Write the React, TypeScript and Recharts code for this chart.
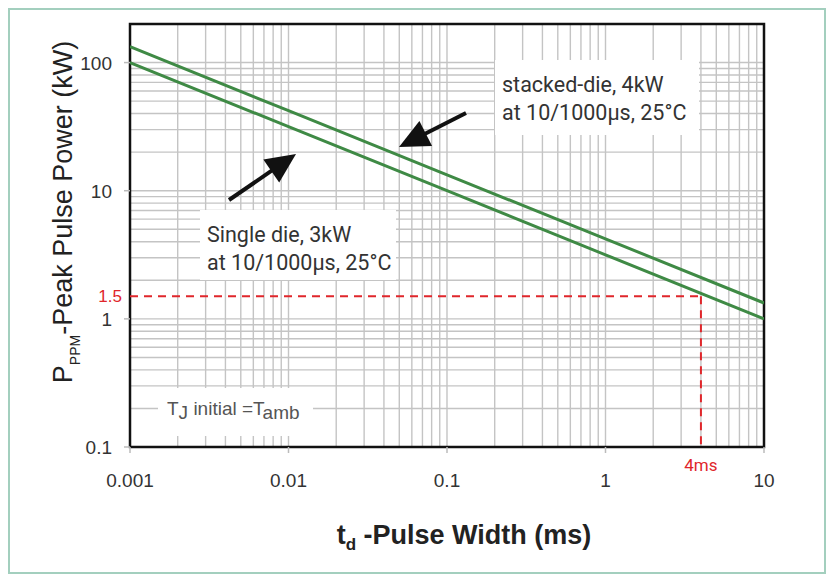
import {
  LineChart,
  Line,
  XAxis,
  YAxis,
  CartesianGrid,
  ReferenceLine,
  ReferenceArea,
  Label,
} from "recharts";

// ---------------------------------------------------------------------------
// Data
// ---------------------------------------------------------------------------

// pulse width in ms, read at each decade
const pulseWidth = [0.001, 0.01, 0.1, 1, 10];
const singleDiePower = [100, 31.6, 10, 3.16, 1.0];
const stackedDiePower = [133, 42.1, 13.3, 4.21, 1.33];

const xTicks = [0.001, 0.01, 0.1, 1, 4, 10];
const yTicks = [0.1, 1, 1.5, 10, 100];

// log paper grid
const xGrid = [
  0.001, 0.002, 0.003, 0.004, 0.005, 0.006, 0.007, 0.008, 0.009,
  0.01, 0.02, 0.03, 0.04, 0.05, 0.06, 0.07, 0.08, 0.09,
  0.1, 0.2, 0.3, 0.4, 0.5, 0.6, 0.7, 0.8, 0.9,
  1, 2, 3, 4, 5, 6, 7, 8, 9, 10,
];
const yGrid = [
  0.1, 0.2, 0.3, 0.4, 0.5, 0.6, 0.7, 0.8, 0.9,
  1, 2, 3, 4, 5, 6, 7, 8, 9,
  10, 20, 30, 40, 50, 60, 70, 80, 90,
  100, 200,
];

const markerWidth = 4; // ms
const markerPower = 1.5; // kW

const singleDie = pulseWidth.map((x, i) => ({ x, y: singleDiePower[i] }));
const stackedDie = pulseWidth.map((x, i) => ({ x, y: stackedDiePower[i] }));

const FONT = "'Liberation Sans', Arial, sans-serif";
const NOTE_FONT = "Roboto, 'Liberation Sans', Arial, sans-serif";
const RED = "#e0262b";
const GREEN = "#3f8a45";
const INK = "#333";

// ---------------------------------------------------------------------------
// Ticks
// ---------------------------------------------------------------------------

function XTick(props: any) {
  const { x, y, payload } = props;
  const v = payload.value;
  if (v === markerWidth) {
    return (
      <text x={x} y={y + 24} textAnchor="middle" fill={RED} fontSize={17} fontFamily={NOTE_FONT}>
        {v}ms
      </text>
    );
  }
  return (
    <g>
      <line x1={x} x2={x} y1={y} y2={y + 6} stroke="#bbb" strokeWidth={1.5} />
      <text x={x} y={y + 40} textAnchor="middle" fill={INK} fontSize={19} fontFamily={FONT}>
        {String(v)}
      </text>
    </g>
  );
}

function YTick(props: any) {
  const { x, y, payload } = props;
  const v = payload.value;
  if (v === markerPower) {
    return (
      <text x={x - 8} y={y + 6} textAnchor="end" fill={RED} fontSize={17} fontFamily={FONT}>
        {String(v)}
      </text>
    );
  }
  return (
    <g>
      <line x1={x - 6} x2={x} y1={y} y2={y} stroke="#bbb" strokeWidth={1.5} />
      <text x={x - 18} y={y + 7} textAnchor="end" fill={INK} fontSize={19} fontFamily={FONT}>
        {String(v)}
      </text>
    </g>
  );
}

// ---------------------------------------------------------------------------
// Annotations
// ---------------------------------------------------------------------------

function Arrow({ from, to }: { from: [number, number]; to: [number, number] }) {
  const [x1, y1] = from;
  const [x2, y2] = to;
  const len = Math.hypot(x2 - x1, y2 - y1);
  const ux = (x2 - x1) / len;
  const uy = (y2 - y1) / len;
  const head = 30;
  const half = 14;
  const bx = x2 - ux * head;
  const by = y2 - uy * head;
  return (
    <g>
      <line x1={x1} y1={y1} x2={bx + ux * 4} y2={by + uy * 4} stroke="#111" strokeWidth={4} />
      <polygon
        points={`${x2},${y2} ${bx - uy * half},${by + ux * half} ${bx + uy * half},${by - ux * half}`}
        fill="#111"
      />
    </g>
  );
}

function Notes() {
  return (
    <svg
      width={834}
      height={582}
      style={{ position: "absolute", left: 0, top: 0, pointerEvents: "none" }}
    >
      <rect x={495} y={60} width={204} height={75} fill="#fff" />
      <text x={502} y={92} fontSize={21.5} fill={INK} fontFamily={NOTE_FONT}>
        stacked-die, 4kW
      </text>
      <text x={502} y={120} fontSize={21.5} fill={INK} fontFamily={NOTE_FONT}>
        at 10/1000μs, 25°C
      </text>
      <Arrow from={[466, 113]} to={[399, 147]} />

      <rect x={200} y={210} width={196} height={70} fill="#fff" />
      <text x={207} y={242} fontSize={21.5} fill={INK} fontFamily={NOTE_FONT}>
        Single die, 3kW
      </text>
      <text x={207} y={270} fontSize={21.5} fill={INK} fontFamily={NOTE_FONT}>
        at 10/1000μs, 25°C
      </text>
      <Arrow from={[229, 200]} to={[296, 154]} />

      <rect x={158} y={388} width={155} height={48} fill="#fff" />
      <text x={167} y={415} fontSize={19} fill="#555" fontFamily={FONT}>
        T<tspan dy={4}>J</tspan>
        <tspan dy={-4}> initial =T</tspan>
        <tspan dy={4}>amb</tspan>
      </text>
    </svg>
  );
}

// ---------------------------------------------------------------------------
// Chart
// ---------------------------------------------------------------------------

export default function App() {
  return (
    <div style={{ position: "absolute", left: 0, top: 0, width: 834, height: 582, background: "#fff" }}>
      <div
        style={{
          position: "absolute",
          left: 8,
          top: 8,
          width: 818,
          height: 566,
          boxSizing: "border-box",
          border: "2px solid #a3cfbe",
        }}
      />
      <div style={{ position: "absolute", left: 0, top: 0 }}>
        <LineChart width={834} height={582} margin={{ top: 24, right: 70, bottom: 0, left: 0 }}>
          <CartesianGrid
            stroke="#c4c4c4"
            strokeWidth={1.4}
            horizontalValues={yGrid}
            verticalValues={xGrid}
          />
          <XAxis
            type="number"
            dataKey="x"
            scale="log"
            domain={[0.001, 10]}
            ticks={xTicks}
            allowDataOverflow
            height={135}
            axisLine={false}
            tickLine={false}
            tickSize={0}
            tickMargin={0}
            tick={XTick}
            interval={0}
          >
            <Label
              content={() => (
                <text x={464} y={544} textAnchor="middle" fontSize={27} fontWeight="bold" fill="#222" fontFamily={FONT}>
                  t<tspan fontSize={17} dy={6}>d</tspan>
                  <tspan dy={-6}> -Pulse Width (ms)</tspan>
                </text>
              )}
            />
          </XAxis>
          <YAxis
            type="number"
            dataKey="y"
            scale="log"
            domain={[0.1, 200]}
            ticks={yTicks}
            allowDataOverflow
            width={130}
            axisLine={false}
            tickLine={false}
            tickSize={0}
            tickMargin={0}
            tick={YTick}
            interval={0}
          >
            <Label
              content={() => (
                <text
                  x={0}
                  y={0}
                  transform="translate(72 212) rotate(-90)"
                  textAnchor="middle"
                  fontSize={27}
                  fill="#222"
                  fontFamily={FONT}
                >
                  P<tspan fontSize={14} dy={8}>PPM</tspan>
                  <tspan dy={-8}>-Peak Pulse Power (kW)</tspan>
                </text>
              )}
            />
          </YAxis>

          <ReferenceLine
            segment={[
              { x: 0.001, y: markerPower },
              { x: markerWidth, y: markerPower },
            ]}
            stroke={RED}
            strokeWidth={2}
            strokeDasharray="8 6"
          />
          <ReferenceLine
            segment={[
              { x: markerWidth, y: markerPower },
              { x: markerWidth, y: 0.1 },
            ]}
            stroke={RED}
            strokeWidth={2}
            strokeDasharray="8 6"
          />

          <Line
            data={singleDie}
            dataKey="y"
            stroke={GREEN}
            strokeWidth={3}
            dot={false}
            isAnimationActive={false}
          />
          <Line
            data={stackedDie}
            dataKey="y"
            stroke={GREEN}
            strokeWidth={3}
            dot={false}
            isAnimationActive={false}
          />

          <ReferenceArea
            x1={0.001}
            x2={10}
            y1={0.1}
            y2={200}
            fill="none"
            stroke="#111"
            strokeWidth={2.5}
          />
        </LineChart>
      </div>
      <Notes />
    </div>
  );
}
